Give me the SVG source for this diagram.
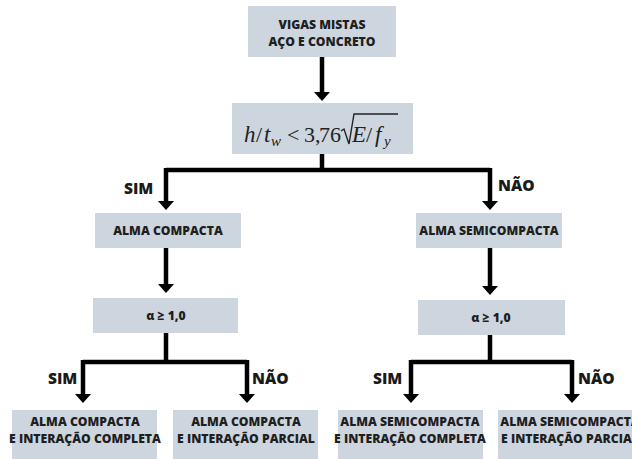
<svg xmlns="http://www.w3.org/2000/svg" width="632" height="459" viewBox="0 0 632 459">
<defs>
<style>
.box{fill:#cdd6df}
.t{font-family:"Open Sans","Liberation Sans",sans-serif;font-weight:800;font-size:12.2px;fill:#1f1f1f;text-anchor:middle}
.lbl{font-family:"Open Sans","Liberation Sans",sans-serif;font-weight:800;font-size:15.5px;fill:#1a1a1a}
.c{fill:none;stroke:#000;stroke-width:4.5}
.m{font-family:"Liberation Serif","DejaVu Serif",serif;font-style:italic;fill:#222;font-size:23px}
.n{font-family:"Liberation Serif","DejaVu Serif",serif;fill:#222;font-size:22px}
.s{font-family:"Liberation Serif","DejaVu Serif",serif;font-style:italic;fill:#222;font-size:15px}
</style>
<marker id="ah" markerUnits="userSpaceOnUse" markerWidth="18" markerHeight="18" viewBox="0 0 18 18" refX="0" refY="9" orient="auto">
<path d="M0,1 L9,9 L0,17 z" fill="#000"/>
</marker>
</defs>
<rect width="632" height="459" fill="#fff"/>
<g id="connectors">
<path class="c" d="M322,57 V92" marker-end="url(#ah)"/>
<path class="c" d="M322,154 V170 M166,170 H490"/>
<path class="c" d="M166,168 V201" marker-end="url(#ah)"/>
<path class="c" d="M490,168 V201" marker-end="url(#ah)"/>
<path class="c" d="M166,248 V284" marker-end="url(#ah)"/>
<path class="c" d="M490,248 V286" marker-end="url(#ah)"/>
<path class="c" d="M166,333 V362 M83,362 H247"/>
<path class="c" d="M83,360 V394" marker-end="url(#ah)"/>
<path class="c" d="M247,360 V394" marker-end="url(#ah)"/>
<path class="c" d="M490,335 V362 M411,362 H572"/>
<path class="c" d="M411,360 V394" marker-end="url(#ah)"/>
<path class="c" d="M572,360 V394" marker-end="url(#ah)"/>
<text class="lbl" x="124" y="194">SIM</text>
<text class="lbl" x="498" y="191">NÃO</text>
<text class="lbl" x="48" y="384">SIM</text>
<text class="lbl" x="252" y="384">NÃO</text>
<text class="lbl" x="373" y="384">SIM</text>
<text class="lbl" x="578" y="384">NÃO</text>
</g>
<g id="n-vigas">
<rect class="box" x="248" y="6" width="148" height="51"/>
<text class="t" x="322" y="29">VIGAS MISTAS</text>
<text class="t" x="322" y="45.5">AÇO E CONCRETO</text>
</g>
<g id="n-formula">
<rect class="box" x="232" y="103" width="181" height="51"/>
<text class="m" x="244" y="142">h</text>
<text class="n" x="256" y="142">/</text>
<text class="m" x="264" y="142">t</text>
<text class="s" x="271" y="146">w</text>
<text class="n" x="287" y="142">&lt;</text>
<text class="n" x="304" y="142">3,</text>
<text class="n" x="319" y="142">76</text>
<path d="M341,131 L344,129 L349,144 L354,114 H398" fill="none" stroke="#222" stroke-width="1.4"/>
<text class="m" x="352" y="142">E</text>
<text class="n" x="366" y="142">/</text>
<text class="m" x="375" y="142">f</text>
<text class="s" x="384" y="146">y</text>
</g>
<g id="n-alma-compacta">
<rect class="box" x="95" y="213" width="146" height="35"/>
<text class="t" x="168" y="235">ALMA COMPACTA</text>
</g>
<g id="n-alma-semicompacta">
<rect class="box" x="416" y="213" width="146" height="35"/>
<text class="t" x="489" y="235">ALMA SEMICOMPACTA</text>
</g>
<g id="n-alpha-left">
<rect class="box" x="93" y="298" width="145" height="35"/>
<text class="t" x="166" y="320">α ≥ 1,0</text>
</g>
<g id="n-alpha-right">
<rect class="box" x="418" y="300" width="147" height="35"/>
<text class="t" x="491" y="322">α ≥ 1,0</text>
</g>
<g id="n-compacta-completa">
<rect class="box" x="12" y="410" width="145" height="49"/>
<text class="t" x="85" y="426">ALMA COMPACTA</text>
<text class="t" x="85" y="442.5">E INTERAÇÃO COMPLETA</text>
</g>
<g id="n-compacta-parcial">
<rect class="box" x="173" y="410" width="145" height="49"/>
<text class="t" x="246" y="426">ALMA COMPACTA</text>
<text class="t" x="246" y="442.5">E INTERAÇÃO PARCIAL</text>
</g>
<g id="n-semi-completa">
<rect class="box" x="338" y="410" width="145" height="49"/>
<text class="t" x="410" y="426">ALMA SEMICOMPACTA</text>
<text class="t" x="410" y="442.5">E INTERAÇÃO COMPLETA</text>
</g>
<g id="n-semi-parcial">
<rect class="box" x="498" y="410" width="145" height="49"/>
<text class="t" x="570" y="426">ALMA SEMICOMPACTA</text>
<text class="t" x="570" y="442.5">E INTERAÇÃO PARCIAL</text>
</g>
</svg>
